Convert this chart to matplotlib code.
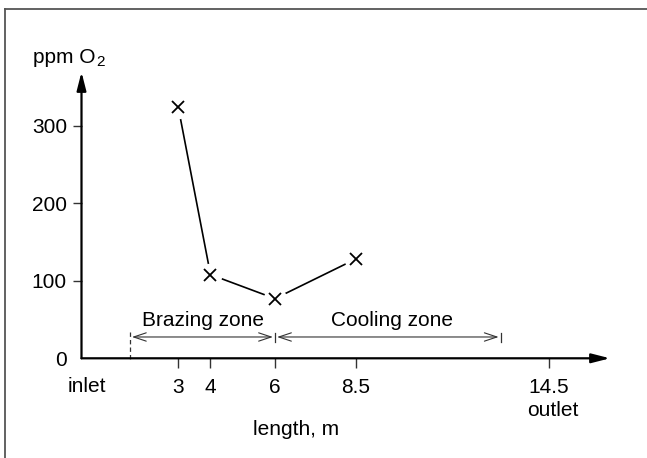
import matplotlib
matplotlib.use("Agg")
import matplotlib.pyplot as plt
from matplotlib.lines import Line2D

plt.rcParams['font.family'] = ['Liberation Sans', 'DejaVu Sans']

# Data
length_m = [3, 4, 6, 8.5]
ppm_o2 = [324, 108, 77, 128]
x_ticks = [3, 4, 6, 8.5, 14.5]
x_tick_labels = ['3', '4', '6', '8.5', '14.5']
y_ticks = [0, 100, 200, 300]
y_tick_labels = ['0', '100', '200', '300']
brazing_zone = (1.5, 6)
cooling_zone = (6, 13)

FS = 15
W, H = 647, 458
fig = plt.figure(figsize=(W / 100, H / 100), dpi=100)
fig.patch.set_facecolor('white')

# outer frame (top and left edges visible)
fig.add_artist(Line2D([5 / W, 5 / W], [0, 1 - 9 / H], transform=fig.transFigure,
                      color='#555555', lw=1.3))
fig.add_artist(Line2D([5 / W, 1], [1 - 9 / H, 1 - 9 / H], transform=fig.transFigure,
                      color='#555555', lw=1.3))

ax = fig.add_axes([81.5 / W, 99.7 / H, 528.5 / W, 286.3 / H])
ax.set_xlim(0, 16.388)
ax.set_ylim(0, 369.4)
for s in ax.spines.values():
    s.set_visible(False)
ax.patch.set_visible(False)

# axes with arrowheads
arrow_kw = dict(arrowstyle='-|>,head_length=1.1,head_width=0.28', mutation_scale=10,
                color='black', lw=1.6, shrinkA=0, shrinkB=0)
ax.annotate('', xy=(1, 0), xytext=(0, 0), xycoords='axes fraction',
            textcoords='axes fraction', arrowprops=arrow_kw, annotation_clip=False)
ax.annotate('', xy=(0, 1), xytext=(0, 0), xycoords='axes fraction',
            textcoords='axes fraction', arrowprops=arrow_kw, annotation_clip=False)

# ticks
ax.set_xticks(x_ticks)
ax.set_xticklabels(x_tick_labels, fontsize=FS)
ax.set_yticks(y_ticks)
ax.set_yticklabels(y_tick_labels, fontsize=FS)
ax.tick_params(axis='x', direction='out', length=7, width=1.0, color='#333333', pad=7.5)
ax.tick_params(axis='y', direction='out', length=6.5, width=1.0, color='#333333', pad=4)
ax.yaxis.get_major_ticks()[0].tick1line.set_visible(False)

# data line with gaps around markers
ax.plot(length_m, ppm_o2, color='black', lw=1.2, zorder=2, clip_on=False)
ax.plot(length_m, ppm_o2, ls='none', marker='o', ms=17, mfc='white', mec='none',
        zorder=3, clip_on=False)
ax.plot(length_m, ppm_o2, ls='none', marker='x', ms=9, mew=1.3, color='black',
        zorder=4, clip_on=False)

# zone dimension arrows
dim_y = 27.5
dim_kw = dict(arrowstyle='<->,head_length=0.9,head_width=0.3', mutation_scale=10,
              color='#333333', lw=0.8, shrinkA=1.5, shrinkB=1.5)
ax.annotate('', xy=(brazing_zone[1], dim_y), xytext=(brazing_zone[0], dim_y),
            arrowprops=dim_kw, annotation_clip=False)
ax.annotate('', xy=(cooling_zone[1], dim_y), xytext=(cooling_zone[0], dim_y),
            arrowprops=dim_kw, annotation_clip=False)
ax.plot([brazing_zone[0], brazing_zone[0]], [34, -5], color='#333333', lw=0.9,
        ls=(0, (3.5, 2.5)), clip_on=False)
for xb in (cooling_zone[0], cooling_zone[1]):
    ax.plot([xb, xb], [33, 21.5], color='#333333', lw=0.9, clip_on=False)

ax.text(3.78, 41.7, 'Brazing zone', fontsize=FS, ha='center', va='baseline')
ax.text(9.64, 41.7, 'Cooling zone', fontsize=FS, ha='center', va='baseline')

# extra labels
ax.text(0.17, -37, 'inlet', fontsize=FS, ha='center', va='center', clip_on=False)
ax.text(14.6, -67, 'outlet', fontsize=FS, ha='center', va='center', clip_on=False)
ax.text(6.65, -92, 'length, m', fontsize=FS, ha='center', va='center', clip_on=False)
ax.text(-1.5, 381, 'ppm O', fontsize=FS, ha='left', va='baseline', clip_on=False)
ax.text(0.45, 376.5, '2', fontsize=11, ha='left', va='baseline', clip_on=False)

fig.savefig('out.png', dpi=100, facecolor='white')
